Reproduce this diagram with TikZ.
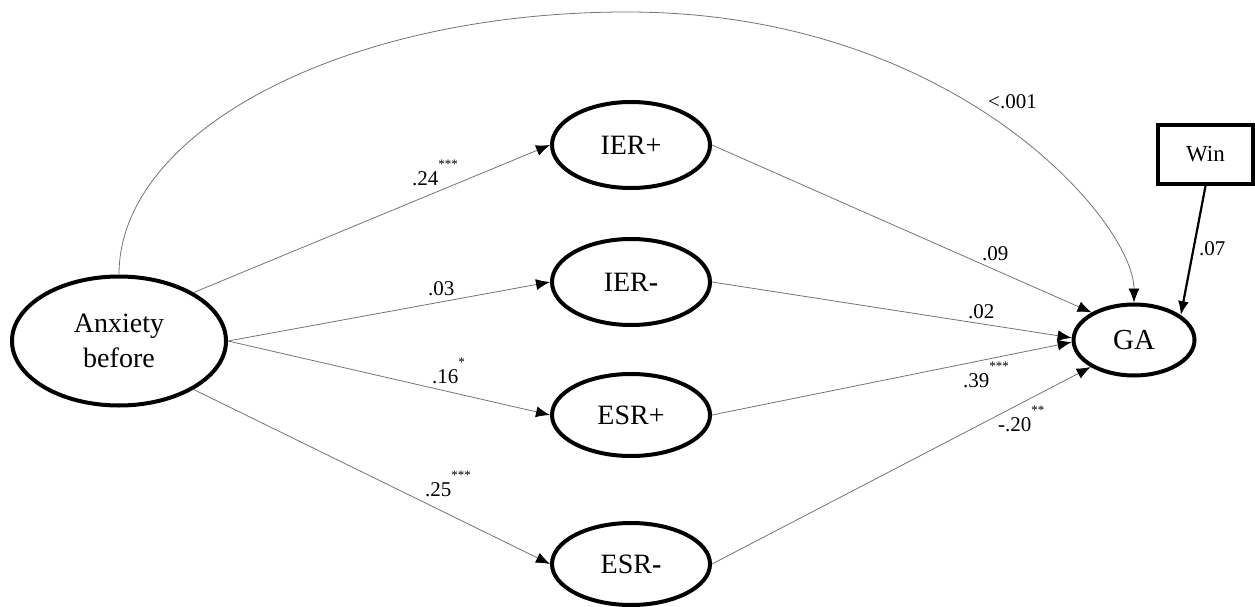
\documentclass[tikz,border=0pt]{standalone}
\usepackage{fontspec}
\setmainfont{Liberation Serif}
\usetikzlibrary{arrows.meta,shapes.geometric}
\newcommand{\sigstars}[1]{\raisebox{17pt}{\fontsize{13}{13}\selectfont #1}}
\begin{document}
\begin{tikzpicture}[x=1pt,y=-1pt,
  latent/.style={ellipse,draw=black,line width=4pt,inner sep=0pt,align=center,font=\fontsize{28}{35}\selectfont},
  pathedge/.style={draw=black!55,line width=0.8pt,-{Latex[length=14pt,width=11pt,color=black]}},
  coef/.style={anchor=base west,inner sep=0pt,font=\fontsize{21}{21}\selectfont}]
\useasboundingbox (0,0) rectangle (1255,607);
% nodes
\node[latent,minimum width=214pt,minimum height=129pt] (anx) at (119,341) {Anxiety\\before};
\node[latent,minimum width=158pt,minimum height=86pt] (ierp) at (631,145) {IER+};
\node[latent,minimum width=158pt,minimum height=86pt] (iern) at (631,282) {IER\textbf{-}};
\node[latent,minimum width=158pt,minimum height=82pt] (esrp) at (631,415) {ESR+};
\node[latent,minimum width=158pt,minimum height=82pt] (esrn) at (631,564) {ESR\textbf{-}};
\node[latent,minimum width=121pt,minimum height=71pt,font=\fontsize{29}{29}\selectfont] (ga) at (1134,340) {GA};
\node[draw=black,line width=4pt,minimum width=95pt,minimum height=59pt,inner sep=0pt,font=\fontsize{23}{23}\selectfont] (win) at (1205.5,154.5) {Win};
\coordinate (top) at (627,12);
% edges
\draw[pathedge] (anx.33) -- (ierp.west);
\draw[pathedge] (anx.east) -- (iern.west);
\draw[pathedge] (anx.east) -- (esrp.west);
\draw[pathedge] (anx.-33) -- (esrn.west);
\draw[pathedge] (ierp.east) -- (ga.147);
\draw[pathedge] (iern.east) -- (ga.178);
\draw[pathedge] (esrp.east) -- (ga.182);
\draw[pathedge] (esrn.east) -- (ga.212);
\draw[pathedge] (anx.north) .. controls (119,130) and (346,12) .. (top) .. controls (957,12) and (1134,223) .. (ga.north);
\draw[line width=2.2pt,-{Latex[length=14pt,width=11pt]}] (win.south) -- (ga.28);
% labels
\node[coef] (l1) at (412,185) {.24\sigstars{***}};
\node[coef] (l2) at (428,295) {.03};
\node[coef] (l3) at (432,383) {.16\sigstars{*}};
\node[coef] (l4) at (425,496) {.25\sigstars{***}};
\node[coef] (l5) at (988,109) {<.001};
\node[coef] (l6) at (982,260) {.09};
\node[coef] (l7) at (968,318) {.02};
\node[coef] (l8) at (963,387) {.39\sigstars{***}};
\node[coef] (l9) at (998,431) {-.20\sigstars{**}};
\node[coef] (l10) at (1199,255) {.07};
\end{tikzpicture}
\end{document}
